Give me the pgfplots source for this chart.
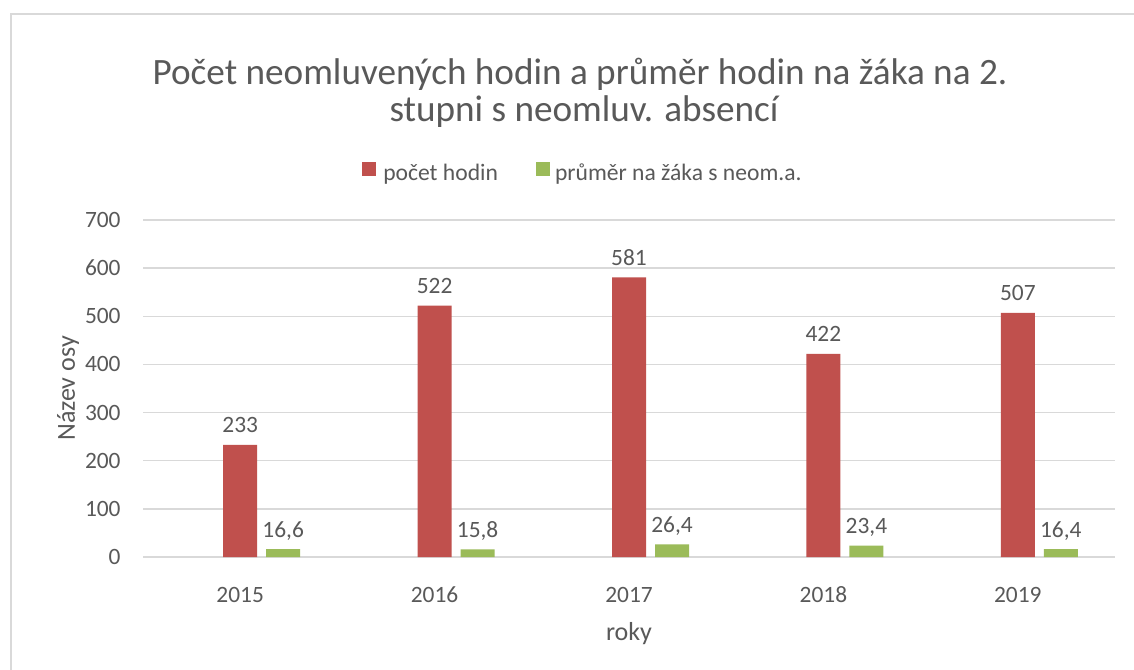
\documentclass[border=0pt]{standalone}
\usepackage{pgfplots}
\pgfplotsset{compat=1.18}
\usepackage{fontspec}
\setmainfont{Carlito}
\definecolor{txt}{HTML}{595959}
\definecolor{redbar}{HTML}{C0504D}
\definecolor{greenbar}{HTML}{9BBB59}
\definecolor{gridc}{HTML}{D9D9D9}

\pgfplotstableread{
x hodin prumer
0 233 16.6
1 522 15.8
2 581 26.4
3 422 23.4
4 507 16.4
}\datatable

\begin{document}
\begin{tikzpicture}
% page = 1134x669 px at 0.5pt per px, axis origin at px (143,557)
\useasboundingbox (-71.5pt,-56pt) rectangle (495.5pt,278.5pt);
\fill[white] (-71.5pt,-56pt) rectangle (495.5pt,278.5pt);
\draw[gridc, line width=0.8pt] (-66pt,-80pt) rectangle (520pt,271.5pt);

\node[txt, font=\fontsize{18.6}{21}\selectfont, anchor=base, inner sep=0pt]
  at (218.5pt,236pt) {Počet neomluvených hodin a průměr hodin na žáka na 2.};
\node[txt, font=\fontsize{18.6}{21}\selectfont, anchor=base, inner sep=0pt]
  at (220.5pt,217.5pt) {stupni s neomluv. absencí};

\begin{axis}[
    at={(0pt,0pt)}, anchor=south west,
    scale only axis,
    width=486pt, height=168.5pt,
    xmin=-0.5, xmax=4.5,
    ymin=0, ymax=700,
    ytick={0,100,...,700},
    xtick={0,...,4},
    xticklabels={2015,2016,2017,2018,2019},
    axis line style={draw=none},
    ymajorgrids,
    grid style={gridc, line width=0.75pt},
    major tick length=0pt,
    /pgf/number format/assume math mode=true,
    tick label style={txt, font=\fontsize{11.7}{13}\selectfont, inner sep=0pt},
    yticklabel style={anchor=east, xshift=-11pt},
    xticklabel style={anchor=base, yshift=-22.5pt},
    xlabel={roky},
    ylabel={Název osy},
    label style={txt, font=\fontsize{13}{15}\selectfont, inner sep=0pt},
    xlabel style={at={(axis description cs:0.5,0)}, anchor=base, yshift=-41.5pt},
    ylabel style={at={(axis description cs:0,0.5)}, anchor=center, yshift=37.5pt},
    ybar, bar width=17pt,
    nodes near coords,
    every node near coord/.append style={txt, font=\fontsize{11.7}{13}\selectfont,
        inner sep=0pt, anchor=base, yshift=6pt},
    legend style={draw=none, fill=none, at={(0.4516,1.141)}, anchor=center,
        font=\fontsize{11.8}{13}\selectfont, text=txt, legend columns=2,
        /tikz/every even column/.append style={column sep=19pt},
        nodes={inner sep=0pt}},
    legend cell align=left,
    legend image code/.code={\fill[#1] (0pt,-1pt) rectangle (7pt,6pt);},
]
\addplot[fill=redbar, draw=none, bar shift=0pt,
    nodes near coords={\pgfmathprintnumber[fixed,precision=0]{\pgfplotspointmeta}}]
    table[x=x, y=hodin] {\datatable};
\addlegendentry{\hspace{3.5pt}počet hodin}
\addplot[fill=greenbar, draw=none, bar shift=21.5pt,
    nodes near coords={\pgfmathprintnumber[fixed,precision=1,use comma]{\pgfplotspointmeta}}]
    table[x=x, y=prumer] {\datatable};
\addlegendentry{\hspace{2.5pt}průměr na žáka s neom.a.}
\end{axis}
\end{tikzpicture}
\end{document}
